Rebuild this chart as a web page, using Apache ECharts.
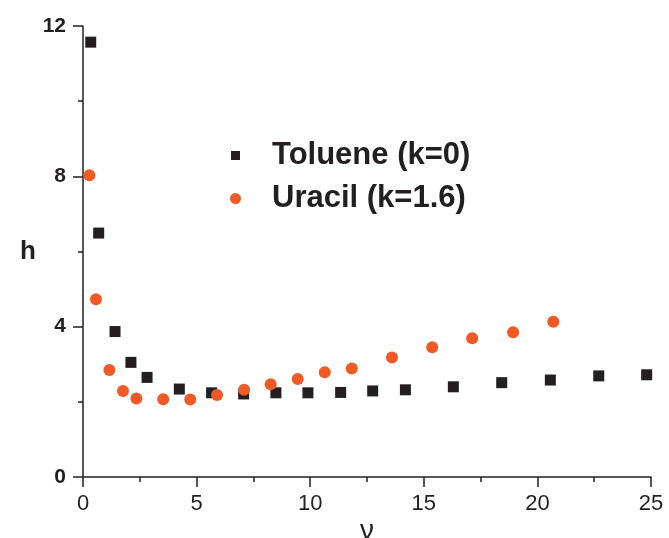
<!DOCTYPE html>
<html>
<head>
<meta charset="utf-8">
<script src="https://cdn.jsdelivr.net/npm/echarts@6/dist/echarts.min.js"></script>
<style>
  html, body { margin: 0; padding: 0; background: #fff; }
  #container { width: 669px; height: 538px; }
</style>
</head>
<body>
<div id="container"></div>
<script>
var tolueneNu = [0.34, 0.69, 1.41, 2.11, 2.82, 4.24, 5.66, 7.07, 8.49, 9.9, 11.34, 12.75, 14.19, 16.3, 18.43, 20.57, 22.7, 24.81];
var tolueneH = [11.57, 6.49, 3.87, 3.05, 2.65, 2.34, 2.24, 2.21, 2.24, 2.24, 2.25, 2.29, 2.32, 2.4, 2.51, 2.58, 2.69, 2.72];
var uracilNu = [0.28, 0.57, 1.16, 1.76, 2.35, 3.53, 4.72, 5.9, 7.09, 8.26, 9.45, 10.64, 11.83, 13.6, 15.37, 17.13, 18.93, 20.7];
var uracilH = [8.03, 4.73, 2.85, 2.29, 2.09, 2.07, 2.06, 2.18, 2.32, 2.47, 2.61, 2.79, 2.89, 3.18, 3.45, 3.69, 3.85, 4.13];
var xTicks = [0, 5, 10, 15, 20, 25];
var yTicks = [0, 4, 8, 12];

var dark = '#231f20';
var orange = '#f15a24';
var font = 'Liberation Sans, Arial, sans-serif';

function pairs(xs, ys) {
  return xs.map(function (x, i) { return [x, ys[i]]; });
}

var dom = document.getElementById('container');
var myChart = echarts.init(dom, null, { renderer: 'canvas' });

var option = {
  backgroundColor: '#fff',
  animation: false,
  grid: { left: 83, right: 18, top: 26, bottom: 61, containLabel: false, outerBoundsMode: 'none' },
  legend: [
    {
      data: [{ name: 'Toluene (k=0)', icon: 'rect' }],
      left: 226, top: 135,
      itemWidth: 9, itemHeight: 9,
      textStyle: { fontFamily: font, fontWeight: 'bold', fontSize: 31, color: dark, padding: [0, 0, 0, 27] }
    },
    {
      data: [{ name: 'Uracil (k=1.6)', icon: 'circle' }],
      left: 225, top: 178,
      itemWidth: 11, itemHeight: 11,
      textStyle: { fontFamily: font, fontWeight: 'bold', fontSize: 31, color: dark, padding: [0, 0, 0, 26] }
    }
  ],
  xAxis: {
    type: 'value',
    min: 0, max: 25, interval: 5,
    name: 'ν',
    nameLocation: 'middle',
    nameGap: 40,
    nameMoveOverlap: false,
    nameTextStyle: { fontFamily: font, fontSize: 28, color: dark, verticalAlign: 'top' },
    axisLine: { show: true, lineStyle: { color: dark, width: 1.5 } },
    axisTick: { show: true, inside: false, length: 10, lineStyle: { color: dark, width: 1.5 } },
    minorTick: { show: true, splitNumber: 2, length: 5, lineStyle: { color: dark, width: 1.5 } },
    splitLine: { show: false },
    axisLabel: {
      fontFamily: font, fontSize: 22, color: dark, margin: 16,
      formatter: function (v) { return xTicks.indexOf(v) >= 0 ? String(v) : ''; }
    }
  },
  yAxis: {
    type: 'value',
    min: 0, max: 12, interval: 4,
    name: 'h',
    nameLocation: 'middle',
    nameGap: 47,
    nameRotate: 0,
    nameMoveOverlap: false,
    nameTextStyle: { fontFamily: font, fontSize: 26, fontWeight: 'bold', color: dark },
    axisLine: { show: true, lineStyle: { color: dark, width: 1.5 } },
    axisTick: { show: true, inside: false, length: 10, lineStyle: { color: dark, width: 1.5 } },
    minorTick: { show: true, splitNumber: 2, length: 5, lineStyle: { color: dark, width: 1.5 } },
    splitLine: { show: false },
    axisLabel: {
      fontFamily: font, fontSize: 21, fontWeight: 'bold', color: dark, margin: 17,
      formatter: function (v) { return yTicks.indexOf(v) >= 0 ? String(v) : ''; }
    }
  },
  series: [
    {
      name: 'Toluene (k=0)',
      type: 'scatter',
      symbol: 'rect',
      symbolSize: 11,
      itemStyle: { color: dark, opacity: 1 },
      data: pairs(tolueneNu, tolueneH)
    },
    {
      name: 'Uracil (k=1.6)',
      type: 'scatter',
      symbol: 'circle',
      symbolSize: 12,
      itemStyle: { color: orange, opacity: 1 },
      data: pairs(uracilNu, uracilH)
    }
  ]
};

myChart.setOption(option);
window.addEventListener('resize', myChart.resize);
</script>
</body>
</html>
